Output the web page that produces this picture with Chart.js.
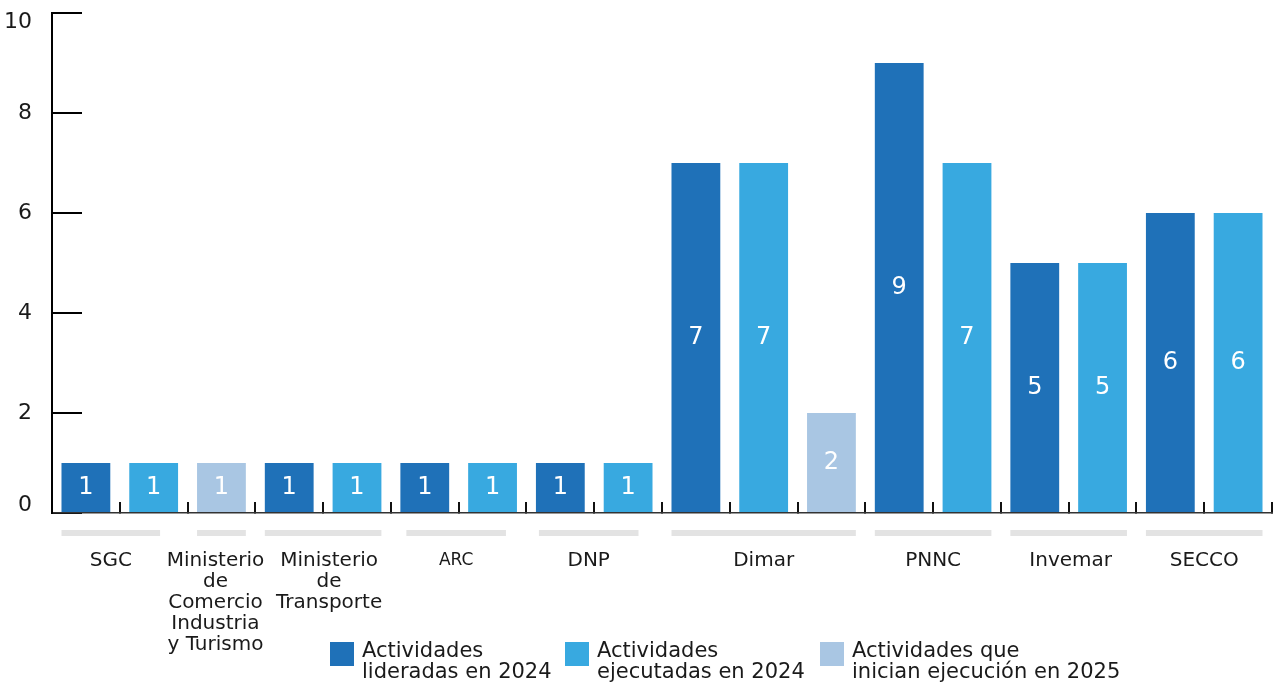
<!DOCTYPE html>
<html>
<head>
<meta charset="utf-8">
<script src="https://cdn.jsdelivr.net/npm/chart.js@4/dist/chart.umd.min.js"></script>
<style>
  html, body { margin: 0; padding: 0; background: #ffffff; }
  #wrap { width: 1276px; height: 683px; position: relative; }
</style>
</head>
<body>
<div id="wrap"><canvas id="c"></canvas></div>
<script>
// ---- Data ----
const categories = [
  ['SGC'],
  ['Ministerio', 'de', 'Comercio', 'Industria', 'y Turismo'],
  ['Ministerio', 'de', 'Transporte'],
  ['ARC'],
  ['DNP'],
  ['Dimar'],
  ['PNNC'],
  ['Invemar'],
  ['SECCO']
];
const seriesNames = [
  ['Actividades', 'lideradas en 2024'],
  ['Actividades', 'ejecutadas en 2024'],
  ['Actividades que', 'inician ejecución en 2025']
];
const lideradas  = [1, null, 1, 1, 1, 7, 9, 5, 6];
const ejecutadas = [1, null, 1, 1, 1, 7, 7, 5, 6];
const inician    = [null, 1, null, null, null, 2, null, null, null];
const yTicks = [0, 2, 4, 6, 8, 10];

// ---- Styles ----
const colors = ['#1F71B8', '#38A9E0', '#A9C6E3'];
const FONT = "'DejaVu Sans', sans-serif";
const TEXT = '#1a1a1a';
// per-group trim of the grey band [left, right], label nudge (px) and label font size
const bandTrim = [[0, 18], [0, 0], [0, 0], [6, 11], [3, 14], [0, 0], [0, 0], [0, 0], [0, 0]];
const labelNudge = [0, -6, 6, 0, 0, 0, 0, 2, 0];
const labelSize = [20, 20, 20, 17, 20, 20, 20, 20, 20];

// ---- Build one slot per bar ----
const series = [lideradas, ejecutadas, inician];
const slotLabels = [];
const slotData = series.map(() => []);
const groups = [];
categories.forEach((cat, ci) => {
  const start = slotLabels.length;
  series.forEach((s, si) => {
    if (s[ci] != null) {
      slotLabels.push(cat.join(' ') + ' | ' + seriesNames[si].join(' '));
      series.forEach((s2, sj) => slotData[sj].push(sj === si ? s[ci] : null));
    }
  });
  groups.push({ lines: cat, start: start, end: slotLabels.length - 1 });
});

const valueLabels = {
  id: 'valueLabels',
  afterDatasetsDraw(chart) {
    const ctx = chart.ctx;
    ctx.save();
    ctx.fillStyle = '#ffffff';
    ctx.font = '24px ' + FONT;
    ctx.textAlign = 'center';
    ctx.textBaseline = 'middle';
    chart.data.datasets.forEach((ds, di) => {
      const meta = chart.getDatasetMeta(di);
      meta.data.forEach((el, i) => {
        const v = ds.data[i];
        if (v == null) return;
        ctx.fillText(String(v), el.x, (el.y + el.base) / 2);
      });
    });
    ctx.restore();
  }
};

const axisText = {
  id: 'axisText',
  afterDraw(chart) {
    const ctx = chart.ctx;
    const x = chart.scales.x;
    const y = chart.scales.y;
    const bottom = chart.chartArea.bottom;
    const meta0 = chart.getDatasetMeta(0);
    const barW = (meta0.data.find(e => e && e.width) || { width: 48 }).width;
    ctx.save();
    // y tick labels (end labels kept inside the axis extent)
    ctx.fillStyle = TEXT;
    ctx.font = '22px ' + FONT;
    ctx.textAlign = 'right';
    ctx.textBaseline = 'middle';
    const yMin = yTicks[0], yMax = yTicks[yTicks.length - 1];
    yTicks.forEach(v => {
      let py = y.getPixelForValue(v);
      if (v === yMax) py += 9;
      if (v === yMin) py -= 8;
      ctx.fillText(String(v), y.right - 20, py);
    });
    // group bands and labels
    groups.forEach((g, gi) => {
      const x1 = x.getPixelForValue(g.start) - barW / 2 + bandTrim[gi][0];
      const x2 = x.getPixelForValue(g.end) + barW / 2 - bandTrim[gi][1];
      const cx = (x1 + x2) / 2 + labelNudge[gi];
      ctx.fillStyle = '#E3E3E3';
      ctx.fillRect(x1, bottom + 17, x2 - x1, 6);
      ctx.fillStyle = TEXT;
      ctx.font = labelSize[gi] + 'px ' + FONT;
      ctx.textAlign = 'center';
      ctx.textBaseline = 'middle';
      g.lines.forEach((ln, li) => {
        ctx.fillText(ln, cx, bottom + 48 + li * 21);
      });
    });
    // legend
    const legendX = [330, 565, 820];
    const legendY = 642;
    seriesNames.forEach((lines, i) => {
      ctx.fillStyle = colors[i];
      ctx.fillRect(legendX[i], legendY, 24, 24);
      ctx.fillStyle = TEXT;
      ctx.font = '21px ' + FONT;
      ctx.textAlign = 'left';
      ctx.textBaseline = 'middle';
      lines.forEach((ln, li) => {
        ctx.fillText(ln, legendX[i] + 32, legendY + 10 + li * 21);
      });
    });
    ctx.restore();
  }
};

new Chart(document.getElementById('c'), {
  type: 'bar',
  data: {
    labels: slotLabels,
    datasets: series.map((s, si) => ({
      label: seriesNames[si].join(' '),
      data: slotData[si],
      backgroundColor: colors[si],
      borderWidth: 0,
      grouped: false,
      barPercentage: 0.72,
      categoryPercentage: 1.0
    }))
  },
  options: {
    responsive: true,
    maintainAspectRatio: false,
    animation: false,
    layout: { padding: { top: 13, right: 4, bottom: 0, left: 0 } },
    plugins: {
      legend: { display: false },
      tooltip: { enabled: false }
    },
    scales: {
      x: {
        offset: true,
        grid: {
          offset: true,
          drawOnChartArea: false,
          drawTicks: true,
          tickLength: -11,
          color: '#111111',
          lineWidth: 2
        },
        border: { display: true, color: '#333333', width: 1.5 },
        ticks: { display: false },
        afterFit(s) { s.height = 170; }
      },
      y: {
        min: 0,
        max: 10,
        afterBuildTicks(s) { s.ticks = yTicks.map(v => ({ value: v })); },
        grid: {
          drawOnChartArea: false,
          drawTicks: true,
          tickLength: -30,
          color: '#000000',
          lineWidth: 2
        },
        border: { display: true, color: '#000000', width: 2 },
        ticks: { display: false },
        afterFit(s) { s.width = 52; s.paddingTop = 0; s.paddingBottom = 0; }
      }
    }
  },
  plugins: [valueLabels, axisText]
});
</script>
</body>
</html>
